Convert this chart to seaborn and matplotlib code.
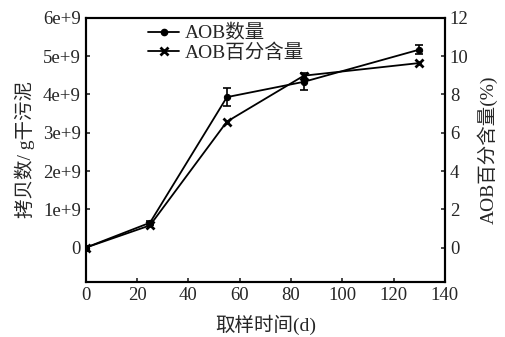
import matplotlib
matplotlib.use('Agg')
import matplotlib.pyplot as plt
import matplotlib.ticker as mticker
import numpy as np
import pandas as pd
import seaborn as sns

# Data
days = [0, 25, 55, 85, 130]
aob_count = [0.0, 0.65e9, 3.93e9, 4.33e9, 5.17e9]
aob_err = [0.0, 0.05e9, 0.24e9, 0.22e9, 0.12e9]
aob_pct = [0.0, 1.16, 6.58, 8.98, 9.64]

sns.set_style('ticks')
plt.rcParams['font.family'] = ['Liberation Serif', 'Noto Sans CJK SC']
plt.rcParams['xtick.direction'] = 'in'
plt.rcParams['ytick.direction'] = 'in'

df = pd.DataFrame({'day': days, 'count': aob_count, 'pct': aob_pct})

fig = plt.figure(figsize=(5.05, 3.37), dpi=100)
ax = fig.add_axes([0.170, 0.163, 0.711, 0.784])
ax2 = ax.twinx()

sns.lineplot(data=df, x='day', y='count', ax=ax, color='black', lw=1.3,
             marker='o', markersize=4.5, markeredgecolor='black')
ax.errorbar(days, aob_count, yerr=aob_err, fmt='none', ecolor='black',
            elinewidth=1.2, capsize=3, capthick=1.2)
sns.lineplot(data=df, x='day', y='pct', ax=ax2, color='black', lw=1.3,
             marker='x', markersize=6, markeredgewidth=2, markeredgecolor='black')

ax.set_xlim(0, 140)
ax.set_ylim(-0.9e9, 6e9)
ax2.set_ylim(-1.8, 12)
ax.set_xticks(range(0, 141, 20))
ax.set_yticks(np.arange(0, 6.1e9, 1e9))
ax2.set_yticks(range(0, 13, 2))
ax.yaxis.set_major_formatter(mticker.FuncFormatter(
    lambda v, p: '0' if v == 0 else '%de+9' % round(v / 1e9)))

ax.set_xlabel('取样时间(d)', fontsize=14, labelpad=8)
ax.set_ylabel('拷贝数/ g干污泥', fontsize=14, labelpad=6)
ax2.set_ylabel('AOB百分含量(%)', fontsize=14, labelpad=6)
for a in (ax, ax2):
    a.tick_params(labelsize=13.5, length=3, width=1.2)
    for s in a.spines.values():
        s.set_linewidth(1.5)
        s.set_color('black')

h1 = plt.Line2D([], [], color='black', lw=1.3, marker='o', markersize=4.5)
h2 = plt.Line2D([], [], color='black', lw=1.3, marker='x', markersize=6, markeredgewidth=2)
ax.legend([h1, h2], ['AOB数量', 'AOB百分含量'], loc='upper left',
          bbox_to_anchor=(0.125, 1.04), frameon=False, fontsize=14,
          handlelength=1.6, handletextpad=0.3, labelspacing=0.05)

fig.savefig('out.png', dpi=100)
